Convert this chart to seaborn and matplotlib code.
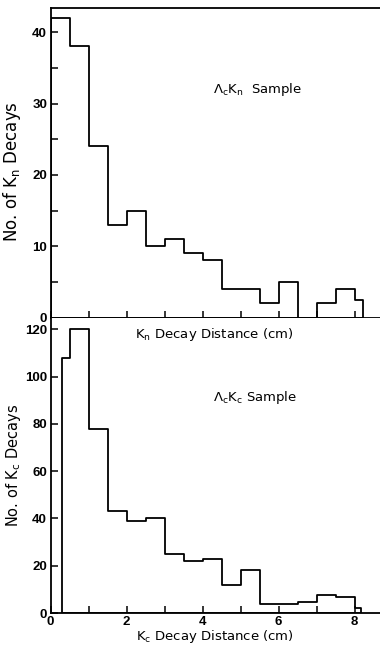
import numpy as np
import matplotlib
matplotlib.use("Agg")
import matplotlib.pyplot as plt
import seaborn as sns

# -----------------------------
# Data
# -----------------------------
kn_edges = [0.0, 0.5, 1.0, 1.5, 2.0, 2.5, 3.0, 3.5, 4.0, 4.5, 5.0, 5.5, 6.0, 6.5, 7.0, 7.5, 8.0, 8.22]
kn_counts = [42, 38, 24, 13, 15, 10, 11, 9, 8, 4, 4, 2, 5, 0, 2, 4, 2.4]

kc_edges = [0.3, 0.5, 1.0, 1.5, 2.0, 2.5, 3.0, 3.5, 4.0, 4.5, 5.0, 5.5, 6.0, 6.5, 7.0, 7.5, 8.0, 8.18]
kc_counts = [108, 120, 78, 43, 39, 40, 25, 22, 23, 12, 18, 4, 3.6, 4.7, 7.6, 6.6, 2]

kn_yticks = [0, 10, 20, 30, 40]
kc_yticks = [0, 20, 40, 60, 80, 100, 120]
kc_xticks = [0, 2, 4, 6, 8]

sns.set_style("ticks")
plt.rcParams["font.family"] = ["DejaVu Sans"]
for key in ["text.color", "axes.labelcolor", "xtick.color", "ytick.color", "axes.edgecolor"]:
    plt.rcParams[key] = "black"
tick_font = {"family": ["Liberation Sans", "DejaVu Sans"], "weight": "bold", "size": 9.5}


def centers(edges):
    e = np.asarray(edges)
    return (e[:-1] + e[1:]) / 2


fig = plt.figure(figsize=(3.8, 6.48), dpi=100)
ax1 = fig.add_axes([0.133, 0.51, 0.867, 0.4777])
ax2 = fig.add_axes([0.133, 0.054, 0.867, 0.456])

for ax, edges, counts in [(ax1, kn_edges, kn_counts), (ax2, kc_edges, kc_counts)]:
    sns.histplot(
        x=centers(edges), weights=counts, bins=edges, element="step",
        fill=True, color="black", facecolor="none", edgecolor="black", linewidth=1.3, ax=ax,
    )
    ax.set_xlim(0, 8.67)
    ax.spines["right"].set_visible(False)
    for s in ["left", "bottom", "top"]:
        ax.spines[s].set_linewidth(1.3)
    ax.tick_params(which="both", direction="in", length=5, width=1.1, pad=2.5)
    ax.set_xlabel("")

# top panel
ax1.set_ylim(0, 43.4)
ax1.set_yticks(kn_yticks)
ax1.set_yticks(np.arange(5, 45, 10), minor=True)
ax1.set_xticks(np.arange(0, 9, 1))
ax1.set_xticklabels([])
ax1.set_yticklabels([str(v) for v in kn_yticks], fontdict=tick_font)
ax1.set_ylabel("No. of K$_\\mathregular{n}$ Decays", fontsize=12)
ax1.yaxis.set_label_coords(-0.083, 0.47)
ax1.text(4.28, 32, "Λ$_\\mathregular{c}$K$_\\mathregular{n}$  Sample", fontsize=9.5, va="center")

# bottom panel
ax2.spines["top"].set_visible(False)
ax2.set_ylim(0, 125)
ax2.set_yticks(kc_yticks)
ax2.set_yticklabels([str(v) for v in kc_yticks], fontdict=tick_font)
ax2.set_xticks(kc_xticks)
ax2.set_xticks([1, 3, 5, 7], minor=True)
ax2.set_xticklabels([str(v) for v in kc_xticks], fontdict=tick_font)
ax2.set_ylabel("No. of K$_\\mathregular{c}$ Decays", fontsize=10.5)
ax2.yaxis.set_label_coords(-0.083, 0.5)
ax2.set_xlabel("K$_\\mathregular{c}$ Decay Distance (cm)", fontsize=9.5, labelpad=0)
ax2.text(4.3, 118, "K$_\\mathregular{n}$ Decay Distance (cm)", fontsize=9.5, ha="center", va="center")
ax2.text(4.28, 91, "Λ$_\\mathregular{c}$K$_\\mathregular{c}$ Sample", fontsize=9.5, va="center")

fig.savefig("out.png", dpi=100)
